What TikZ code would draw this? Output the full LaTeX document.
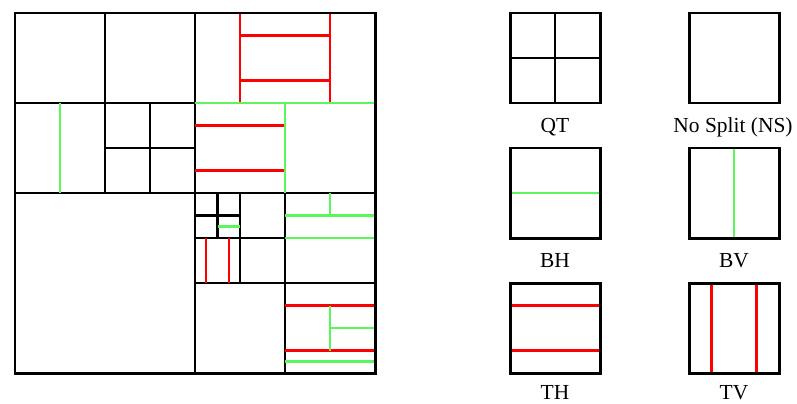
\documentclass[tikz,border=0pt]{standalone}
\usepackage{fontspec}
\setmainfont{Liberation Serif}
\usepackage{xcolor}
\definecolor{splitgreen}{HTML}{5CF55C}
\definecolor{splitred}{HTML}{FF0000}
\tikzset{
  frame/.style={draw=black,line width=1.7pt},
  qtline/.style={draw=black,line width=1.15pt},
  btline/.style={draw=splitgreen,line width=1.5pt},
  ttline/.style={draw=splitred,line width=1.2pt},
  modelabel/.style={font=\fontsize{12.2}{15}\selectfont,anchor=base,inner sep=0pt}
}

\begin{document}
\begin{tikzpicture}[x=0.02cm,y=-0.02cm]
  \useasboundingbox (0,0) rectangle (797,403);

  % quad-tree splits of the CTU
  \draw[qtline] (195,13) -- (195,373);
  \draw[qtline] (15,193) -- (375,193);
  \draw[qtline] (105,13) -- (105,193);
  \draw[qtline] (15,103) -- (195,103);
  \draw[qtline] (150,103) -- (150,193);
  \draw[qtline] (105,148) -- (195,148);
  \draw[qtline] (285,193) -- (285,373);
  \draw[qtline] (195,283) -- (375,283);
  \draw[qtline] (240,193) -- (240,283);
  \draw[qtline] (195,238) -- (285,238);
  \draw[qtline] (217.5,193) -- (217.5,238);
  \draw[qtline] (195,215.5) -- (240,215.5);

  % ternary splits
  \draw[ttline] (240,13) -- (240,103);
  \draw[ttline] (330,13) -- (330,103);
  \draw[ttline] (240,35.5) -- (330,35.5);
  \draw[ttline] (240,80.5) -- (330,80.5);
  \draw[ttline] (195,125.5) -- (285,125.5);
  \draw[ttline] (195,170.5) -- (285,170.5);
  \draw[ttline] (206.25,238) -- (206.25,283);
  \draw[ttline] (228.75,238) -- (228.75,283);
  \draw[ttline] (285,305.5) -- (375,305.5);
  \draw[ttline] (285,350.5) -- (375,350.5);

  % binary splits
  \draw[btline] (60,103) -- (60,193);
  \draw[btline] (195,103) -- (375,103);
  \draw[btline] (285,103) -- (285,193);
  \draw[btline] (217.5,226.75) -- (240,226.75);
  \draw[btline] (285,215.5) -- (375,215.5);
  \draw[btline] (330,193) -- (330,215.5);
  \draw[btline] (285,238) -- (375,238);
  \draw[btline] (330,305.5) -- (330,350.5);
  \draw[btline] (330,328) -- (375,328);
  \draw[btline] (285,361.75) -- (375,361.75);

  \draw[frame] (15,13) rectangle (375,373);

  % split types
  \draw[qtline] (555,13) -- (555,103);
  \draw[qtline] (510,58) -- (600,58);
  \draw[btline] (510,193) -- (600,193);
  \draw[btline] (734,148) -- (734,238);
  \draw[ttline] (510,305.5) -- (600,305.5);
  \draw[ttline] (510,350.5) -- (600,350.5);
  \draw[ttline] (711.5,283) -- (711.5,373);
  \draw[ttline] (756.5,283) -- (756.5,373);
  \foreach \y in {13,148,283} {
    \draw[frame] (510,\y) rectangle +(90,90);
    \draw[frame] (689,\y) rectangle +(90,90);
  }
  \node[modelabel] (qt) at (555,132) {QT};
  \node[modelabel] (ns) at (733,132) {No Split (NS)};
  \node[modelabel] (bh) at (555,267) {BH};
  \node[modelabel] (bv) at (734,267) {BV};
  \node[modelabel] (th) at (555,399) {TH};
  \node[modelabel] (tv) at (734,399) {TV};
\end{tikzpicture}
\end{document}
